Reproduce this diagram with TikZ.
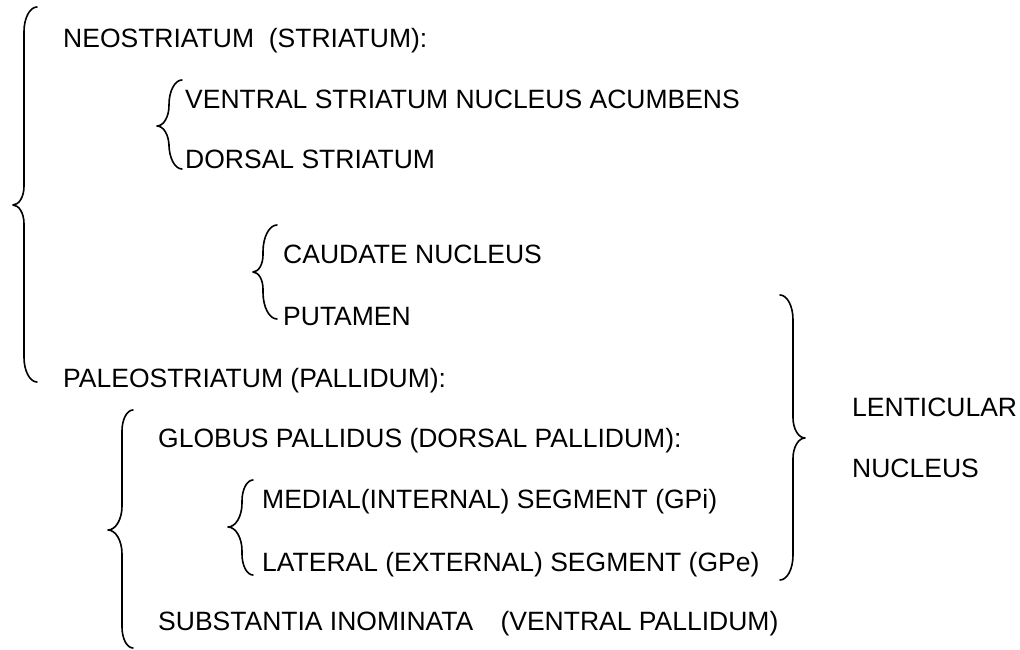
\documentclass[tikz,border=0pt]{standalone}
\usepackage{fontspec}
\setmainfont{Liberation Sans}
\newcommand{\drawbrace}[6]{% xend, xline, xtip, top, tip, bottom
  \pgfmathsetmacro\brw{#1-#2}
  \pgfmathsetmacro\brd{#2-#3}
  \pgfmathsetmacro\bra{1.9*abs(\brw)}
  \pgfmathsetmacro\brc{1.7*abs(\brd)}
  \draw[bracestyle] (#1,#4) .. controls (#1-0.55*\brw,#4) and (#2,#4+0.45*\bra) .. (#2,#4+\bra)
    -- (#2,#5-\brc) .. controls (#2,#5-0.45*\brc) and (#3+0.55*\brd,#5) .. (#3,#5)
    .. controls (#3+0.55*\brd,#5) and (#2,#5+0.45*\brc) .. (#2,#5+\brc)
    -- (#2,#6-\bra) .. controls (#2,#6-0.45*\bra) and (#1-0.55*\brw,#6) .. (#1,#6);
}
\begin{document}
\begin{tikzpicture}[x=1pt,y=-1pt,
  lbl/.style={anchor=base west, inner sep=0pt, font=\fontsize{26.5pt}{30pt}\selectfont, text=black},
  bracestyle/.style={draw=black, line width=1.6pt, line cap=round, line join=round}]
\fill[white] (0,0) rectangle (1020,650);
\useasboundingbox (0,0) rectangle (1020,650);
% texts
\node[lbl] (neo) at (63,48) {NEOSTRIATUM\ \ (STRIATUM):};
\node[lbl] (ven) at (185,109) {VENTRAL STRIATUM NUCLEUS ACUMBENS};
\node[lbl] (dor) at (185,168) {DORSAL STRIATUM};
\node[lbl] (cau) at (283,263) {CAUDATE NUCLEUS};
\node[lbl] (put) at (283,325) {PUTAMEN};
\node[lbl] (pal) at (63,387) {PALEOSTRIATUM (PALLIDUM):};
\node[lbl] (glo) at (158,447) {GLOBUS PALLIDUS (DORSAL PALLIDUM):};
\node[lbl] (med) at (262,508) {MEDIAL(INTERNAL) SEGMENT (GPi)};
\node[lbl] (lat) at (262,571) {LATERAL (EXTERNAL) SEGMENT (GPe)};
\node[lbl] (sub) at (158,630) {SUBSTANTIA INOMINATA\hspace{0.75em} (VENTRAL PALLIDUM)};
\node[lbl] (len) at (852,416) {LENTICULAR};
\node[lbl] (nuc) at (852,477) {NUCLEUS};
% braces
\drawbrace{37}{24}{13}{7}{205}{382}
\drawbrace{182}{169}{157}{80}{126}{169}
\drawbrace{277}{263}{253}{225}{272}{319}
\drawbrace{133}{122}{108}{410}{530}{648}
\drawbrace{253}{242}{228}{480}{527}{575}
\drawbrace{780}{793}{805}{295}{438}{580}
\end{tikzpicture}
\end{document}
